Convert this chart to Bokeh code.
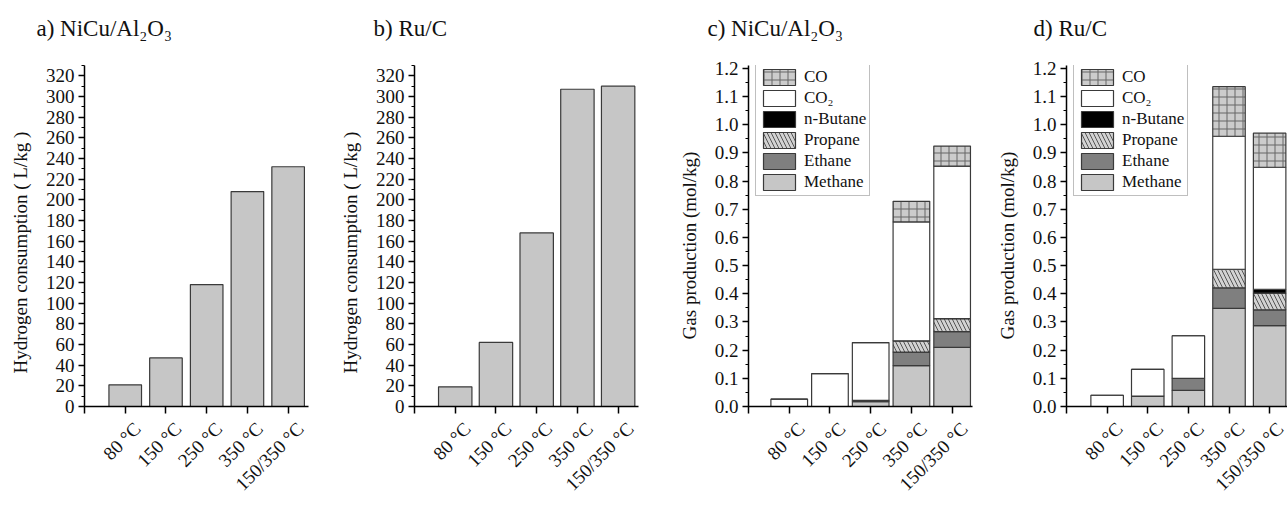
from bokeh.plotting import figure
from bokeh.layouts import row, column
from bokeh.models import (Range1d, FixedTicker, SingleIntervalTicker, NumeralTickFormatter,
                          Legend, LegendItem, ColumnDataSource, LinearAxis)
from bokeh.core.properties import value
from bokeh.embed import file_html
from bokeh.resources import INLINE
import math

# ---------------- data ----------------
categories = ["80 °C", "150 °C", "250 °C", "350 °C", "150/350 °C"]
positions = [1, 2, 3, 4, 5]

h2_nicu = [21, 47, 118, 208, 232]
h2_ruc = [19, 62, 168, 307, 310]

species = ["Methane", "Ethane", "Propane", "n-Butane", "CO₂", "CO"]

# NiCu/Al2O3 gas production (mol/kg), stacked segments
nicu_methane = [0.0, 0.0, 0.017, 0.145, 0.210]
nicu_ethane = [0.0, 0.0, 0.005, 0.048, 0.056]
nicu_propane = [0.0, 0.0, 0.0, 0.040, 0.046]
nicu_butane = [0.0, 0.0, 0.0, 0.0, 0.0]
nicu_co2 = [0.026, 0.117, 0.205, 0.422, 0.541]
nicu_co = [0.0, 0.0, 0.0, 0.073, 0.071]

# Ru/C gas production (mol/kg), stacked segments
ruc_methane = [0.0, 0.037, 0.057, 0.348, 0.287]
ruc_ethane = [0.0, 0.0, 0.043, 0.073, 0.056]
ruc_propane = [0.0, 0.0, 0.0, 0.066, 0.059]
ruc_butane = [0.0, 0.0, 0.0, 0.0, 0.014]
ruc_co2 = [0.040, 0.095, 0.151, 0.472, 0.433]
ruc_co = [0.0, 0.0, 0.0, 0.176, 0.121]

titles = ["a) NiCu/Al₂O₃", "b) Ru/C", "c) NiCu/Al₂O₃", "d) Ru/C"]
h2_label = "Hydrogen consumption ( L/kg )"
gas_label = "Gas production (mol/kg)"

# ---------------- styles ----------------
FONT = "Liberation Serif"
W_TOTAL = 1287
STRIP_H = 44
H = 505 - STRIP_H
title_x_px = [36, 373, 707, 1033]   # left edge of each panel title (layout)
title_y_px = 16                     # title centre, measured from strip bottom
BAR_LINE = "#3a3a3a"
fills = ["#c6c6c6", "#7f7f7f", "#d2d2d2", "#000000", "#ffffff", "#cccccc"]
hatches = [None, None, "\\", None, None, "+"]
hatch_colors = ["#555555", "#555555", "#555555", "#555555", "#555555", "#666666"]
NB = "\u00a0"
LABEL_SHIFT = 0.3  # rotated tick labels sit slightly right of their tick


def make_fig(width, bl, br, bt, bb, xend, ymax):
    p = figure(width=width, height=H, x_range=Range1d(0, xend), y_range=Range1d(0, ymax),
               output_backend="svg", toolbar_location=None,
               min_border_left=bl, min_border_right=br, min_border_top=bt, min_border_bottom=bb)
    p.outline_line_color = None
    p.xgrid.visible = False
    p.ygrid.visible = False
    p.background_fill_color = "white"
    p.border_fill_color = "white"

    # main bottom axis: ticks at bar centres, no labels
    xa = p.xaxis[0]
    xa.ticker = FixedTicker(ticks=[0] + positions, minor_ticks=[])
    xa.major_label_overrides = {t: "" for t in [0] + positions}
    xa.major_label_standoff = 0
    xa.major_tick_out = 7
    xa.major_tick_in = 0
    xa.axis_line_width = 1.5
    xa.major_tick_line_width = 1.5

    # label axis: rotated category labels
    lab_ticks = [pos + LABEL_SHIFT for pos in positions]
    la = LinearAxis(ticker=FixedTicker(ticks=lab_ticks, minor_ticks=[]))
    la.major_label_overrides = {t: c for t, c in zip(lab_ticks, categories)}
    la.major_label_orientation = math.pi / 4
    la.major_label_text_font = FONT
    la.major_label_text_font_size = "19px"
    la.major_label_text_color = "#111111"
    la.major_label_standoff = 12
    la.axis_line_color = None
    la.major_tick_line_color = None
    la.minor_tick_line_color = None
    la.major_tick_out = 0
    la.major_tick_in = 0
    p.add_layout(la, "below")

    ya = p.yaxis[0]
    ya.major_label_text_font = FONT
    ya.major_label_text_font_size = "19px"
    ya.major_label_text_color = "#111111"
    ya.axis_label_text_font = FONT
    ya.axis_label_text_font_size = "19px"
    ya.axis_label_text_font_style = "normal"
    ya.axis_label_text_color = "#111111"
    ya.axis_label_standoff = 12
    ya.major_tick_out = 6
    ya.major_tick_in = 0
    ya.minor_tick_out = 3
    ya.minor_tick_in = 0
    ya.axis_line_width = 1.5
    ya.major_tick_line_width = 1.5
    ya.minor_tick_line_width = 1.2
    ya.major_label_standoff = 4
    return p


def h2_panel(vals, width, bl, br, bt, bb, xend, bar_w):
    p = make_fig(width, bl, br, bt, bb, xend, 330)
    src = ColumnDataSource(dict(x=positions, top=vals))
    p.vbar(x="x", top="top", width=bar_w, source=src, fill_color="#c6c6c6",
           line_color=BAR_LINE, line_width=1.2)
    p.yaxis[0].ticker = SingleIntervalTicker(interval=20, num_minor_ticks=2)
    p.yaxis[0].axis_label = h2_label + NB * 7
    return p


def gas_panel(series, width, bl, br, bt, bb, xend, bar_w):
    p = make_fig(width, bl, br, bt, bb, xend, 1.21)
    data = dict(x=positions)
    for name, vals in zip(species, series):
        data[name] = vals
    src = ColumnDataSource(data)
    rends = p.vbar_stack(species, x="x", width=bar_w, source=src,
                         fill_color=fills, line_color=BAR_LINE, line_width=1.2,
                         hatch_pattern=hatches, hatch_color=hatch_colors,
                         hatch_scale=8, hatch_weight=1)
    p.yaxis[0].ticker = SingleIntervalTicker(interval=0.1, num_minor_ticks=2)
    p.yaxis[0].formatter = NumeralTickFormatter(format="0.0")
    p.yaxis[0].axis_label = gas_label + NB * 4
    items = [LegendItem(label=name, renderers=[r]) for name, r in zip(species, rends)]
    items = items[::-1]
    legend = Legend(items=items, location=(7, 210), orientation="vertical",
                    glyph_width=40, glyph_height=20, label_height=20, spacing=1,
                    padding=3, margin=0, label_standoff=5,
                    label_text_font=FONT, label_text_font_size="17px",
                    label_text_color="#111111",
                    border_line_color="#808080", border_line_width=1,
                    background_fill_color="white", background_fill_alpha=1)
    p.add_layout(legend)
    return p


# title strip across the top
strip = figure(width=W_TOTAL, height=STRIP_H, x_range=Range1d(0, W_TOTAL), y_range=Range1d(0, STRIP_H),
               output_backend="svg", toolbar_location=None, x_axis_type=None, y_axis_type=None,
               min_border=0)
strip.outline_line_color = None
strip.xgrid.visible = False
strip.ygrid.visible = False
strip.text(x=title_x_px, y=[title_y_px] * len(titles), text=titles,
           text_font=value(FONT), text_font_size="23px", text_color="#111111",
           text_align="left", text_baseline="middle")

pa = h2_panel(h2_nicu, 328, 84, 20, 65 - STRIP_H, 97, 5.5, 0.8)
pb = h2_panel(h2_ruc, 320, 86, 10, 65 - STRIP_H, 98, 5.5, 0.82)
pc = gas_panel([nicu_methane, nicu_ethane, nicu_propane, nicu_butane, nicu_co2, nicu_co],
               326, 100, 2, 63 - STRIP_H, 98, 5.5, 0.9)
pd_ = gas_panel([ruc_methane, ruc_ethane, ruc_propane, ruc_butane, ruc_co2, ruc_co],
                313, 92, 0, 63 - STRIP_H, 97, 5.44, 0.8)

layout = column(strip, row(pa, pb, pc, pd_, spacing=0), spacing=0)
open("out.html", "w").write(file_html(layout, INLINE))
